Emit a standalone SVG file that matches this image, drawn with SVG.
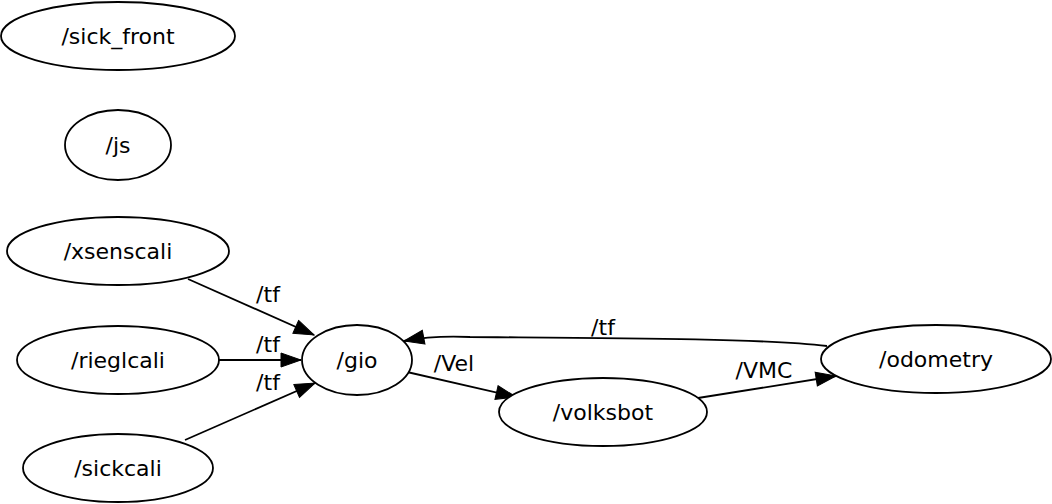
<svg xmlns="http://www.w3.org/2000/svg" width="1052" height="504" viewBox="0 0 1052 504">
<defs>
<style>
.n ellipse{fill:#fff;stroke:#000;stroke-width:1.8}
text{font-family:"DejaVu Sans","Liberation Sans",sans-serif;font-size:22px;fill:#000;text-anchor:middle}
.e path{fill:none;stroke:#000;stroke-width:1.8;marker-end:url(#ah)}
</style>
<marker id="ah" markerUnits="userSpaceOnUse" markerWidth="22" markerHeight="16" refX="21" refY="8" orient="auto">
<path d="M1,1 L21,8 L1,15 z" fill="#000" stroke="#000" stroke-width="1"/>
</marker>
</defs>
<rect width="1052" height="504" fill="#fff"/>
<g id="edges" class="e">
<path d="M188,279 L314,335"/>
<path d="M219,360 L301,360"/>
<path d="M185,440 L315,383"/>
<path d="M407,372 L516,397"/>
<path d="M698,398 L836,376"/>
<path d="M827,346 C760,338 600,338 470,337 C450,336 430,336 404,341"/>
<text x="268" y="302">/tf</text>
<text x="268" y="352">/tf</text>
<text x="268" y="390">/tf</text>
<text x="454" y="371">/Vel</text>
<text x="764" y="378">/VMC</text>
<text x="603" y="335">/tf</text>
</g>
<g id="sick_front" class="n"><ellipse cx="118" cy="36" rx="117" ry="34"/><text x="118" y="44">/sick_front</text></g>
<g id="js" class="n"><ellipse cx="118" cy="145" rx="53" ry="35"/><text x="118" y="153">/js</text></g>
<g id="xsenscali" class="n"><ellipse cx="118" cy="251" rx="111" ry="34"/><text x="118" y="259">/xsenscali</text></g>
<g id="rieglcali" class="n"><ellipse cx="118" cy="360" rx="101" ry="34"/><text x="118" y="368">/rieglcali</text></g>
<g id="sickcali" class="n"><ellipse cx="118" cy="468" rx="95" ry="34"/><text x="118" y="476">/sickcali</text></g>
<g id="gio" class="n"><ellipse cx="357" cy="360" rx="55" ry="35"/><text x="357" y="368">/gio</text></g>
<g id="volksbot" class="n"><ellipse cx="603" cy="412" rx="104" ry="34"/><text x="603" y="420">/volksbot</text></g>
<g id="odometry" class="n"><ellipse cx="936" cy="359" rx="115" ry="34"/><text x="936" y="367">/odometry</text></g>
</svg>
